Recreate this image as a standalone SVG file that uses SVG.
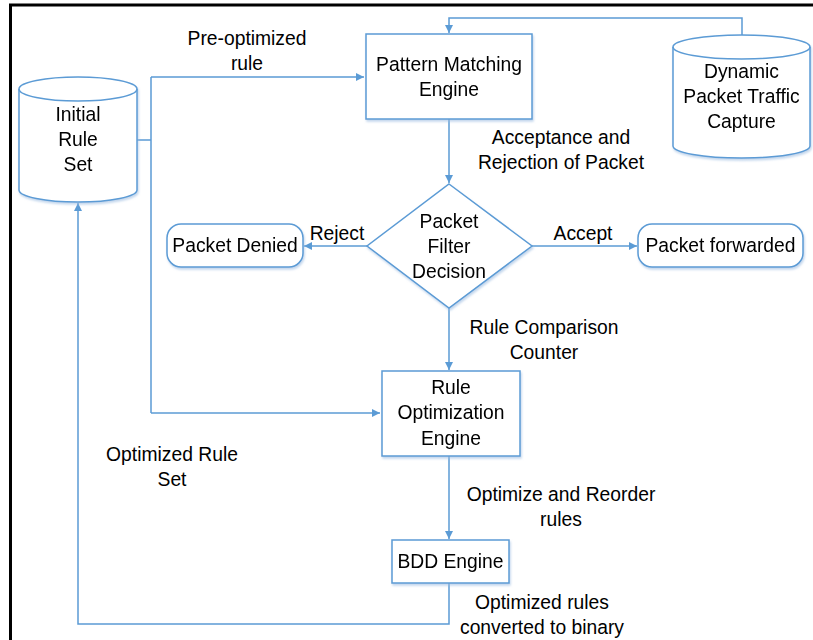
<svg xmlns="http://www.w3.org/2000/svg" width="813" height="640" viewBox="0 0 813 640">
<defs>
<style>
.s{fill:#fff;stroke:#5b9bd5;stroke-width:1.5}
.c{fill:none;stroke:#5b9bd5;stroke-width:1.5}
text{font-family:"Liberation Sans",Arial,sans-serif;font-size:19.3px;fill:#000;text-anchor:middle}
</style>
<marker id="a" viewBox="0 0 10 10" refX="10" refY="5" markerWidth="8" markerHeight="8" markerUnits="userSpaceOnUse" orient="auto">
<path d="M0,0 L10,5 L0,10 z" fill="#5b9bd5"/>
</marker>
<filter id="sh" x="-10%" y="-10%" width="130%" height="130%">
<feDropShadow dx="1" dy="2" stdDeviation="1" flood-color="#9bbbe0" flood-opacity="0.6"/>
</filter>
</defs>
<rect x="0" y="0" width="813" height="640" fill="#fff"/>
<path d="M10.5,640 V5 H813" fill="none" stroke="#000" stroke-width="3"/>

<g id="connectors">
<path class="c" d="M137,140 H151 M151,77 V413 M151,77 H364" marker-end="url(#a)"/>
<path class="c" d="M151,413 H380" marker-end="url(#a)"/>
<path class="c" d="M742,35 V18 H449 V33" marker-end="url(#a)"/>
<path class="c" d="M449,119 V183" marker-end="url(#a)"/>
<path class="c" d="M367,246 H304" marker-end="url(#a)"/>
<path class="c" d="M532,246 H637" marker-end="url(#a)"/>
<path class="c" d="M449,308 V370" marker-end="url(#a)"/>
<path class="c" d="M449,456 V539" marker-end="url(#a)"/>
<path class="c" d="M449,583 V624 H78 V203" marker-end="url(#a)"/>
<text x="247" y="45">Pre-optimized</text>
<text x="247" y="70">rule</text>
<text x="561" y="144">Acceptance and</text>
<text x="561" y="169">Rejection of Packet</text>
<text x="337" y="240">Reject</text>
<text x="583" y="240">Accept</text>
<text x="544" y="334">Rule Comparison</text>
<text x="544" y="359">Counter</text>
<text x="172" y="461">Optimized Rule</text>
<text x="172" y="486">Set</text>
<text x="561" y="501">Optimize and Reorder</text>
<text x="561" y="526">rules</text>
<text x="542" y="609">Optimized rules</text>
<text x="542" y="634">converted to binary</text>
</g>

<g id="initial-rule-set" filter="url(#sh)">
<path class="s" d="M19,89 V190 A59,12 0 0 0 137,190 V89 A59,12 0 0 0 19,89 Z"/>
<path class="c" d="M19,89 A59,12 0 0 0 137,89"/>
<text x="78" y="121">Initial</text>
<text x="78" y="146">Rule</text>
<text x="78" y="171">Set</text>
</g>

<g id="pattern-matching-engine" filter="url(#sh)">
<rect class="s" x="366" y="34" width="166" height="85"/>
<text x="449" y="71">Pattern Matching</text>
<text x="449" y="96">Engine</text>
</g>

<g id="dynamic-packet-traffic-capture" filter="url(#sh)">
<path class="s" d="M673,47 V146 A68.5,12 0 0 0 810,146 V47 A68.5,12 0 0 0 673,47 Z"/>
<path class="c" d="M673,47 A68.5,12 0 0 0 810,47"/>
<text x="741.5" y="78">Dynamic</text>
<text x="741.5" y="103">Packet Traffic</text>
<text x="741.5" y="128">Capture</text>
</g>

<g id="packet-filter-decision" filter="url(#sh)">
<path class="s" d="M449,184 L532,246 L449,308 L367,246 Z"/>
<text x="449" y="228">Packet</text>
<text x="449" y="253">Filter</text>
<text x="449" y="278">Decision</text>
</g>

<g id="packet-denied" filter="url(#sh)">
<rect class="s" x="167" y="224" width="136" height="43" rx="14"/>
<text x="235" y="252">Packet Denied</text>
</g>

<g id="packet-forwarded" filter="url(#sh)">
<rect class="s" x="638" y="224" width="165" height="43" rx="14"/>
<text x="720.5" y="252">Packet forwarded</text>
</g>

<g id="rule-optimization-engine" filter="url(#sh)">
<rect class="s" x="382" y="371" width="138" height="85"/>
<text x="451" y="394">Rule</text>
<text x="451" y="419">Optimization</text>
<text x="451" y="445">Engine</text>
</g>

<g id="bdd-engine" filter="url(#sh)">
<rect class="s" x="392" y="540" width="117" height="43"/>
<text x="450.5" y="568">BDD Engine</text>
</g>
</svg>
